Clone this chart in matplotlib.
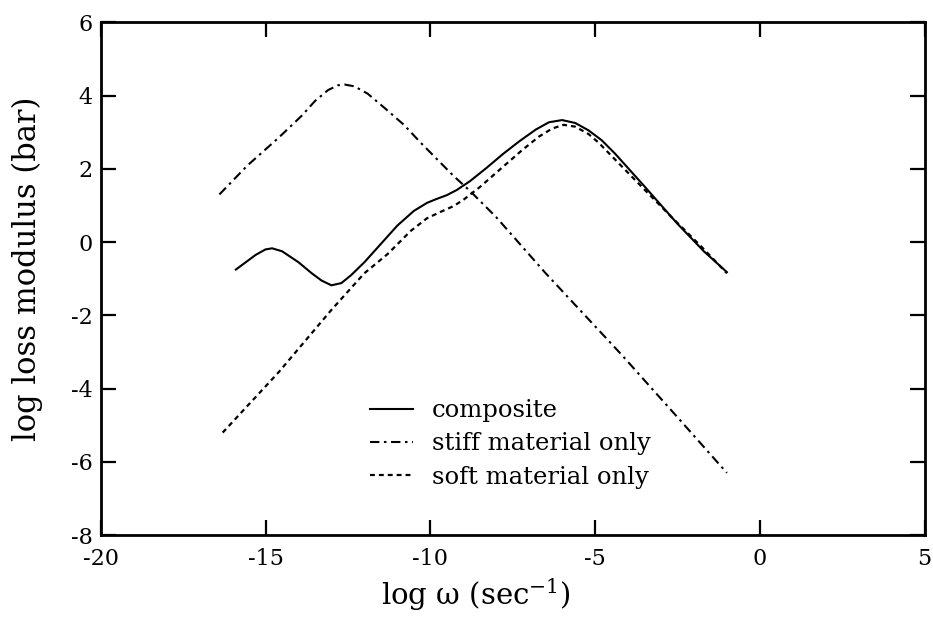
import matplotlib
matplotlib.use("Agg")
import matplotlib.pyplot as plt

plt.rcParams['font.family'] = ['DejaVu Serif']
plt.rcParams['mathtext.fontset'] = 'dejavuserif'
plt.rcParams['axes.unicode_minus'] = False

# composite response
comp_x = [-15.9, -15.6, -15.3, -15.0, -14.8, -14.5, -14.0, -13.6, -13.3, -13.0,
          -12.7, -12.4, -12.0, -11.6, -11.0, -10.5, -10.1, -9.8, -9.5, -9.2,
          -8.8, -8.3, -7.8, -7.3, -6.8, -6.4, -6.0, -5.6, -5.2, -4.8,
          -4.4, -3.5, -2.5, -1.7, -1.0]
comp_y = [-0.75, -0.55, -0.35, -0.2, -0.17, -0.25, -0.55, -0.85, -1.05, -1.18,
          -1.12, -0.9, -0.55, -0.15, 0.45, 0.85, 1.07, 1.18, 1.28, 1.42,
          1.66, 2.02, 2.4, 2.75, 3.07, 3.27, 3.33, 3.25, 3.05, 2.78,
          2.42, 1.52, 0.5, -0.25, -0.82]

# stiff material only
stiff_x = [-16.4, -15.55, -14.6, -13.9, -13.5, -13.1, -12.8, -12.6, -12.3, -11.9,
           -11.4, -10.8, -10.3, -9.3, -8.8, -8.0, -6.5, -4.2, -2.5, -1.0]
stiff_y = [1.3, 2.09, 2.85, 3.45, 3.85, 4.15, 4.28, 4.3, 4.25, 4.05,
           3.67, 3.2, 2.72, 1.81, 1.4, 0.68, -0.85, -3.07, -4.78, -6.3]

# soft material only
soft_x = [-16.3, -14.6, -13.0, -12.0, -11.3, -10.6, -10.1, -9.7, -9.3, -9.0,
          -8.5, -7.8, -7.2, -6.7, -6.3, -5.95, -5.6, -5.2, -4.9, -3.9,
          -2.7, -1.8, -1.0]
soft_y = [-5.2, -3.55, -1.85, -0.85, -0.33, 0.3, 0.65, 0.82, 0.98, 1.15,
          1.5, 2.05, 2.52, 2.88, 3.1, 3.2, 3.15, 2.95, 2.72, 1.8,
          0.7, -0.1, -0.85]

fig = plt.figure(figsize=(9.33, 6.18), dpi=100)
ax = fig.add_axes([0.108, 0.134, 0.883, 0.830])

ax.plot(comp_x, comp_y, color='black', lw=1.5, label='composite')
ax.plot(stiff_x, stiff_y, color='black', lw=1.5,
        linestyle=(0, (4.5, 2.2, 1.2, 2.2)), label='stiff material only')
ax.plot(soft_x, soft_y, color='black', lw=1.6,
        linestyle=(0, (2.2, 1.8)), label='soft material only')

ax.set_xlim(-20, 5)
ax.set_ylim(-8, 6)
ax.set_xticks([-20, -15, -10, -5, 0, 5])
ax.set_yticks([-8, -6, -4, -2, 0, 2, 4, 6])
ax.tick_params(direction='in', top=True, right=True, length=11, width=1.6,
               labelsize=16)
ax.tick_params(axis='x', pad=9)
ax.tick_params(axis='y', pad=6)
for s in ax.spines.values():
    s.set_linewidth(2)

ax.set_xlabel(r'log ω (sec$^{-1}$)', fontsize=21)
ax.set_ylabel('log loss modulus (bar)', fontsize=22)
ax.xaxis.set_label_coords(0.455, -0.08)
ax.yaxis.set_label_coords(-0.07, 0.52)

ax.legend(loc='upper left', bbox_to_anchor=(0.327, 0.265), frameon=False,
          fontsize=17.5, handlelength=1.75, handletextpad=0.8, labelspacing=0.42,
          borderpad=0, borderaxespad=0)

fig.savefig('out.png', dpi=100)
